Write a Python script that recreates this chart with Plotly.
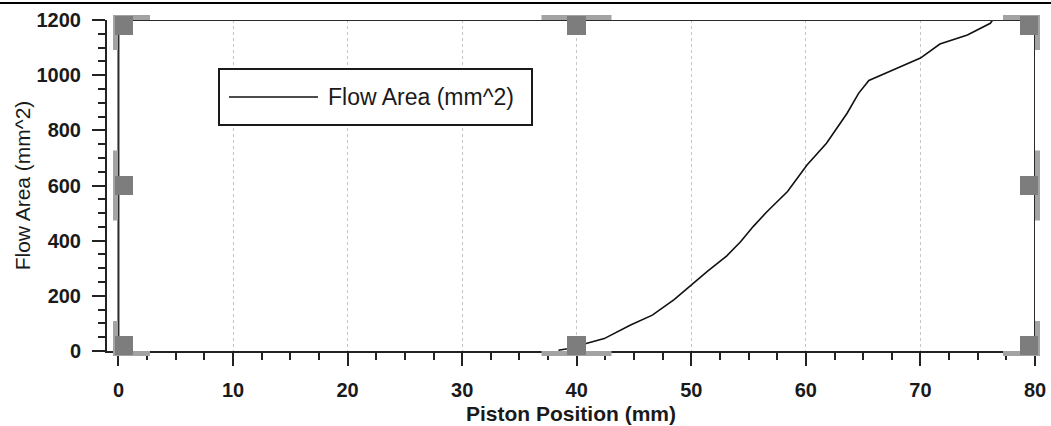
import plotly.graph_objects as go

# ---- data ----
piston_mm = [38.4, 39.2, 40.9, 42.4, 44.7, 46.6, 48.5, 50.2, 51.4, 53.1, 54.3, 55.4,
             56.6, 58.4, 60.1, 61.8, 63.6, 64.6, 65.5, 67.8, 70.0, 71.7, 74.1, 76.1, 76.3]
flow_area = [3, 8, 28, 45, 94, 130, 186, 248, 289, 345, 396, 451,
             505, 578, 674, 753, 862, 934, 981, 1022, 1062, 1113, 1146, 1188, 1200]
series_name = "Flow Area (mm^2)"
x_title = "Piston Position (mm)"
y_title = "Flow Area (mm^2)"
x_ticks = [0, 10, 20, 30, 40, 50, 60, 70, 80]
y_ticks = [0, 200, 400, 600, 800, 1000, 1200]

FONT = "Liberation Sans, Arial, sans-serif"
W, H = 1051, 426
L, R, T, B = 107, 1035, 20, 351   # plot area in pixels


def px(xp):
    return (xp - L) / (R - L)


def py(yp):
    return (B - yp) / (B - T)


fig = go.Figure()
fig.add_trace(go.Scatter(x=piston_mm, y=flow_area, mode="lines", name=series_name,
                         line=dict(color="#111111", width=1.6), showlegend=False))

shapes = []
# frame (top, left at x=0, right)
fx0, fx1 = x_ticks[0], x_ticks[-1]
fy1 = y_ticks[-1]
for (a, b, c, d) in [(fx0, fy1, fx1, fy1), (fx0, 0, fx0, fy1), (fx1, 0, fx1, fy1)]:
    shapes.append(dict(type="line", xref="x", yref="y", x0=a, y0=b, x1=c, y1=d,
                       line=dict(color="#2a2a2a", width=2), layer="above"))

# selection handles (decorative grey squares around the frame)
FX0, FX1, FY0, FY1 = 118, 1035, 20, 351
XM, YM = (FX0 + FX1) / 2, (FY0 + FY1) / 2
LIGHT, DARK = "#a3a3a3", "#7d7d7d"


def rect(x0, x1, y0, y1, col):
    shapes.append(dict(type="rect", xref="paper", yref="paper",
                       x0=px(min(x0, x1)), x1=px(max(x0, x1)),
                       y0=py(max(y0, y1)), y1=py(min(y0, y1)),
                       fillcolor=col, line=dict(width=0), layer="above"))


for cx, sx in [(FX0, -1), (FX1, 1)]:
    for cy, sy in [(FY0, -1), (FY1, 1)]:
        rect(cx + sx * 3, cx - sx * 32, cy, cy + sy * 5, LIGHT)
        rect(cx, cx + sx * 5, cy + sy * 5, cy - sy * 30, LIGHT)
        rect(cx + sx * 3, cx - sx * 15, cy + sy * 4, cy - sy * 15, DARK)
for cy, sy in [(FY0, -1), (FY1, 1)]:
    rect(XM - 35, XM + 35, cy, cy + sy * 5, LIGHT)
    rect(XM - 9.5, XM + 9.5, cy + sy * 4, cy - sy * 15, DARK)
for cx, sx in [(FX0, -1), (FX1, 1)]:
    rect(cx, cx + sx * 5, YM - 35, YM + 35, LIGHT)
    rect(cx + sx * 3, cx - sx * 15, YM - 9.5, YM + 9.5, DARK)

# page border line at the very top
shapes.append(dict(type="line", xref="paper", yref="paper", x0=px(0), x1=px(W),
                   y0=py(3), y1=py(3), line=dict(color="#000000", width=2)))

# legend box
shapes.append(dict(type="rect", xref="paper", yref="paper", x0=px(219), x1=px(532),
                   y0=py(125), y1=py(69), line=dict(color="#1a1a1a", width=2),
                   fillcolor="white", layer="above"))
shapes.append(dict(type="line", xref="paper", yref="paper", x0=px(229), x1=px(318),
                   y0=py(97), y1=py(97), line=dict(color="#111111", width=1.6), layer="above"))

annotations = [dict(text=series_name, xref="paper", yref="paper", x=px(326), y=py(97),
                    xanchor="left", yanchor="middle", showarrow=False,
                    font=dict(family=FONT, size=23, color="#1a1a1a"))]

fig.update_layout(
    width=W, height=H,
    margin=dict(l=L, r=W - R, t=T, b=H - B, autoexpand=False),
    paper_bgcolor="white", plot_bgcolor="white",
    shapes=shapes, annotations=annotations,
    showlegend=False,
    xaxis=dict(range=[-1, 80], tickvals=x_ticks, ticktext=[str(v) for v in x_ticks],
               automargin=False,
               ticks="outside", ticklen=13, tickwidth=1.6, tickcolor="#222",
               showline=True, linecolor="#222", linewidth=2,
               showgrid=True, gridcolor="#c4c4c4", griddash="dot", gridwidth=1,
               zeroline=False, ticklabelstandoff=7,
               minor=dict(dtick=2.5, tick0=0, ticks="outside", ticklen=7,
                          tickwidth=1.6, tickcolor="#222", showgrid=False),
               tickfont=dict(family=FONT, size=20, color="#1a1a1a", weight="bold"),
               title=dict(text=x_title, standoff=6,
                          font=dict(family=FONT, size=21, color="#1a1a1a", weight="bold"))),
    yaxis=dict(range=[0, 1200], tickvals=y_ticks, ticktext=[str(v) for v in y_ticks],
               automargin=False,
               ticks="outside", ticklen=13, tickwidth=1.6, tickcolor="#222",
               showline=True, linecolor="#222", linewidth=2,
               showgrid=False, zeroline=False, ticklabelstandoff=7,
               minor=dict(dtick=50, tick0=0, ticks="outside", ticklen=7,
                          tickwidth=1.6, tickcolor="#222", showgrid=False),
               tickfont=dict(family=FONT, size=20, color="#1a1a1a", weight="bold"),
               title=dict(text=y_title, standoff=0,
                          font=dict(family=FONT, size=21, color="#1a1a1a"))),
)

fig.write_html("out.html", config={"displayModeBar": False},
               post_script="document.body.style.margin='0';")
